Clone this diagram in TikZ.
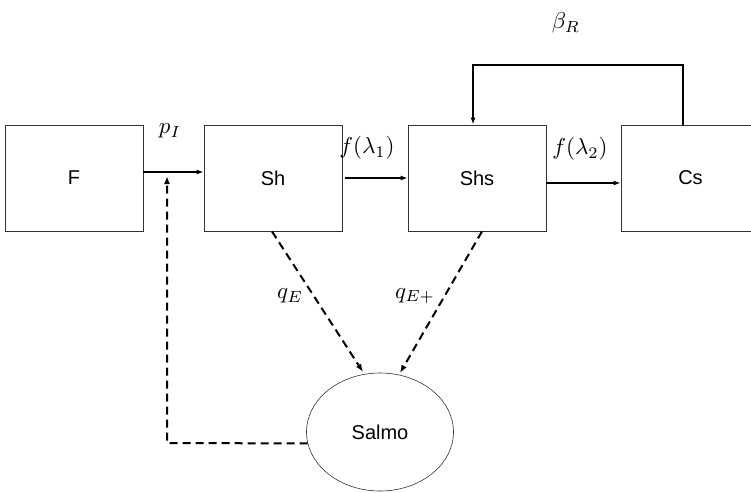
\documentclass[tikz,border=0pt]{standalone}
\usepackage{fontspec}
\setmainfont{Liberation Sans}
\usetikzlibrary{arrows.meta,calc,shapes.geometric}
\begin{document}
\begin{tikzpicture}[x=1pt,y=-1pt,
  box/.style={draw=black!80,line width=0.9pt,minimum width=138pt,minimum height=106pt,inner sep=0pt,font=\fontsize{20}{24}\selectfont},
  flow/.style={line width=1.2pt,-{Latex[length=7pt,width=5pt]}},
  dflow/.style={line width=2pt,dash pattern=on 8pt off 5pt,-{Latex[length=8pt,width=6pt]}},
  lab/.style={scale=2.3,inner sep=0pt}]
\useasboundingbox (0,0) rectangle (751,492);
\begin{scope}
\clip (0,0) rectangle (751,492);
\node[box] (F) at (74,178) {F};
\node[box] (Sh) at (273,178) {Sh};
\node[box] (Shs) at (477,178) {Shs};
\node[box,minimum width=140pt] (Cs) at (691,178) {\hspace*{-1pt}Cs};
\end{scope}
\node[draw=black!80,line width=0.6pt,ellipse,minimum width=147pt,minimum height=118pt,inner sep=0pt,font=\fontsize{20}{24}\selectfont] (Salmo) at (380,432) {Salmo};
% solid flows
\draw[flow] (F.east |- 0,172) -- (Sh.west |- 0,172);
\draw[flow] ($(Sh.east |- 0,178)+(3,0)$) -- (Shs.west |- 0,178);
\draw[flow] (Shs.east |- 0,183) -- (Cs.west |- 0,183);
\coordinate (cr) at (683,65);
\coordinate (cl) at (473,65);
\draw[flow,line width=1.6pt] (Cs.north -| cr) -- (cr) -- (cl) -- (Shs.north -| cl);
% dashed flows
\draw[dflow] (Sh.south -| 272,0) -- (363,372);
\draw[dflow] (Shs.south -| 482,0) -- (400,373);
\coordinate (dc) at (167,443);
\coordinate (dt) at (167,176);
\draw[dflow] (Salmo.189) -- (dc) -- (dt);
% labels
\node[lab] (lp) at (170,131) {$p_I$};
\node[lab] (lf1) at (367,148) {$f(\lambda_1)$};
\node[lab] (lf2) at (580,149) {$f(\lambda_2)$};
\node[lab] (lb) at (566,23) {$\beta_R$};
\node[lab] (lq1) at (290,296) {$q_E$};
\node[lab] (lq2) at (415,296) {$q_{E+}$};
\end{tikzpicture}
\end{document}
